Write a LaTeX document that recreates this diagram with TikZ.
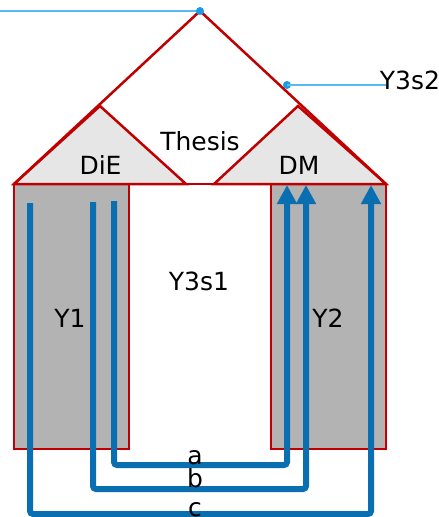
\documentclass[tikz,border=0pt]{standalone}
\usepackage{fontspec}
\setmainfont{DejaVu Sans}
\usetikzlibrary{arrows.meta}
\definecolor{roofred}{HTML}{C00000}
\definecolor{wallgray}{HTML}{B3B3B3}
\definecolor{trigray}{HTML}{E6E6E6}
\definecolor{flowblue}{HTML}{0A6FB0}
\definecolor{leaderblue}{HTML}{5BB8F0}
\definecolor{dotblue}{HTML}{1A9BE6}
\tikzset{
  wall/.style={draw=roofred, fill=wallgray, line width=2.5pt},
  tri/.style={draw=roofred, fill=trigray, line width=2.5pt, line join=miter},
  roofline/.style={draw=roofred, line width=2.5pt},
  flow/.style={draw=flowblue, line width=6pt, rounded corners=3pt},
  flowarrow/.style={flow, -{Triangle[width=19pt,length=19pt]}},
  leader/.style={draw=leaderblue, line width=1.6pt},
  dot/.style={circle, fill=dotblue, inner sep=0pt, minimum size=8pt},
  lbl/.style={font=\fontsize{25}{28}\selectfont, inner sep=0pt, anchor=base},
}
\begin{document}
\begin{tikzpicture}[x=1pt, y=-1pt]
\useasboundingbox (0,0) rectangle (439,517);
% walls
\draw[wall] (14,184) rectangle (129,449);
\draw[wall] (271,184) rectangle (386,449);
% small triangles
\draw[tri] (14,184) -- (100,106) -- (186,184) -- cycle;
\draw[tri] (214,184) -- (298,106) -- (386,184) -- cycle;
% roof
\coordinate (apex) at (200,11);
\coordinate (rl) at (14,184);
\coordinate (rr) at (386,184);
\draw[roofline, line join=miter] (rl) -- (apex) -- (rr);
\draw[roofline] (rl) -- (rr);
% leaders
\coordinate (lstart) at (0,11);
\draw[leader] (lstart) -- (apex);
\node[dot] (d1) at (apex) {};
\node[dot] (d2) at (287,85) {};
\coordinate (l2end) at (387,85);
\draw[leader] (d2.center) -- (l2end);
% flows
\coordinate (a0) at (114,201); \coordinate (a1) at (114,465);
\coordinate (a2) at (287,465); \coordinate (a3) at (287,185);
\coordinate (b0) at (93,202);  \coordinate (b1) at (93,489);
\coordinate (b2) at (306,489); \coordinate (b3) at (306,185);
\coordinate (c0) at (30,203);  \coordinate (c1) at (30,514);
\coordinate (c2) at (371,514); \coordinate (c3) at (371,185);
\draw[flowarrow] (a0) -- (a1) -- (a2) -- (a3);
\draw[flowarrow] (b0) -- (b1) -- (b2) -- (b3);
\draw[flowarrow] (c0) -- (c1) -- (c2) -- (c3);
% labels
\node[lbl] (thesis) at (200,150) {Thesis};
\node[lbl] (die) at (100.5,174) {DiE};
\node[lbl] (dm) at (299,174) {DM};
\node[lbl] (y3s1) at (199,290) {Y3s1};
\node[lbl] (y1) at (70,327) {Y1};
\node[lbl] (y2) at (328,327) {Y2};
\node[lbl] (y3s2) at (410,89) {Y3s2};
\node[lbl] (la) at (195,464) {a};
\node[lbl] (lb) at (195,487) {b};
\node[lbl] (lc) at (195,516) {c};
\end{tikzpicture}
\end{document}
